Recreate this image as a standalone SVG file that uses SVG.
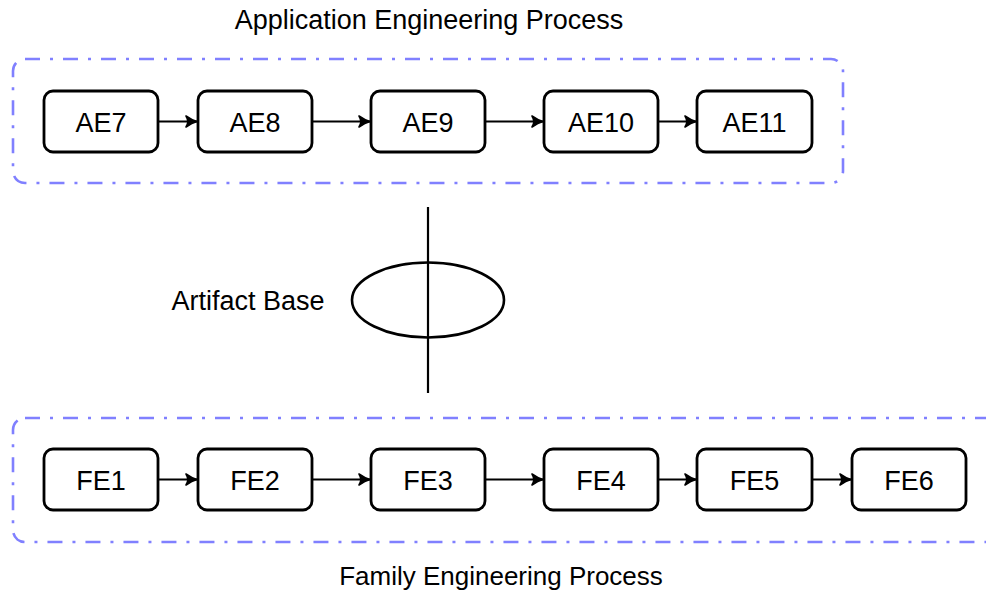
<svg xmlns="http://www.w3.org/2000/svg" width="986" height="597" viewBox="0 0 986 597">
<style>
text{font-family:"Liberation Sans",Arial,sans-serif;font-size:27px;fill:#000}
.lbl{text-anchor:middle}
.box{fill:#fff;stroke:#000;stroke-width:2.8}
.grp{fill:none;stroke:#8080ff;stroke-width:2.6;stroke-dasharray:15 10 3 10}
.con{fill:none;stroke:#000;stroke-width:2.2}
</style>
<defs>
<marker id="ah" markerWidth="16" markerHeight="16" viewBox="-13 -8 16 16" refX="0" refY="0" orient="auto" markerUnits="userSpaceOnUse">
<path d="M-11,-5.5 Q-5,-1.2 0,0 Q-5,1.2 -11,5.5 Q-7.5,0 -11,-5.5 Z" fill="#000" stroke="#000" stroke-width="1.6" stroke-linejoin="round"/>
</marker>
</defs>
<rect id="aep" class="grp" x="13" y="59" width="830" height="124" rx="12"/>
<rect id="fep" class="grp" x="13" y="418" width="1000" height="124" rx="12"/>
<text class="lbl" x="429" y="29">Application Engineering Process</text>
<text class="lbl" x="501" y="585" style="font-size:26px">Family Engineering Process</text>
<g id="connectors">
<line class="con" x1="158" y1="121.5" x2="197" y2="121.5" marker-end="url(#ah)"/>
<line class="con" x1="312" y1="121.5" x2="370" y2="121.5" marker-end="url(#ah)"/>
<line class="con" x1="485" y1="121.5" x2="543" y2="121.5" marker-end="url(#ah)"/>
<line class="con" x1="658" y1="121.5" x2="696" y2="121.5" marker-end="url(#ah)"/>
<line class="con" x1="158" y1="479.5" x2="197" y2="479.5" marker-end="url(#ah)"/>
<line class="con" x1="312" y1="479.5" x2="370" y2="479.5" marker-end="url(#ah)"/>
<line class="con" x1="485" y1="479.5" x2="543" y2="479.5" marker-end="url(#ah)"/>
<line class="con" x1="658" y1="479.5" x2="696" y2="479.5" marker-end="url(#ah)"/>
<line class="con" x1="812" y1="479.5" x2="851" y2="479.5" marker-end="url(#ah)"/>
</g>
<g id="AE7"><rect class="box" x="44" y="91" width="114" height="61" rx="9"/><text class="lbl" x="101" y="131.5">AE7</text></g>
<g id="AE8"><rect class="box" x="198" y="91" width="114" height="61" rx="9"/><text class="lbl" x="255" y="131.5">AE8</text></g>
<g id="AE9"><rect class="box" x="371" y="91" width="114" height="61" rx="9"/><text class="lbl" x="428" y="131.5">AE9</text></g>
<g id="AE10"><rect class="box" x="544" y="91" width="114" height="61" rx="9"/><text class="lbl" x="601" y="131.5">AE10</text></g>
<g id="AE11"><rect class="box" x="697" y="91" width="115" height="61" rx="9"/><text class="lbl" x="754.5" y="131.5">AE11</text></g>
<g id="artifact">
<ellipse cx="428" cy="300" rx="76" ry="37.5" fill="none" stroke="#000" stroke-width="2.6"/>
<line x1="428" y1="207" x2="428" y2="393" stroke="#000" stroke-width="2.2"/>
<text class="lbl" x="248" y="310">Artifact Base</text>
</g>
<g id="FE1"><rect class="box" x="44" y="449" width="114" height="61" rx="9"/><text class="lbl" x="101" y="489.5">FE1</text></g>
<g id="FE2"><rect class="box" x="198" y="449" width="114" height="61" rx="9"/><text class="lbl" x="255" y="489.5">FE2</text></g>
<g id="FE3"><rect class="box" x="371" y="449" width="114" height="61" rx="9"/><text class="lbl" x="428" y="489.5">FE3</text></g>
<g id="FE4"><rect class="box" x="544" y="449" width="114" height="61" rx="9"/><text class="lbl" x="601" y="489.5">FE4</text></g>
<g id="FE5"><rect class="box" x="697" y="449" width="115" height="61" rx="9"/><text class="lbl" x="754.5" y="489.5">FE5</text></g>
<g id="FE6"><rect class="box" x="852" y="449" width="114" height="61" rx="9"/><text class="lbl" x="909" y="489.5">FE6</text></g>
</svg>
